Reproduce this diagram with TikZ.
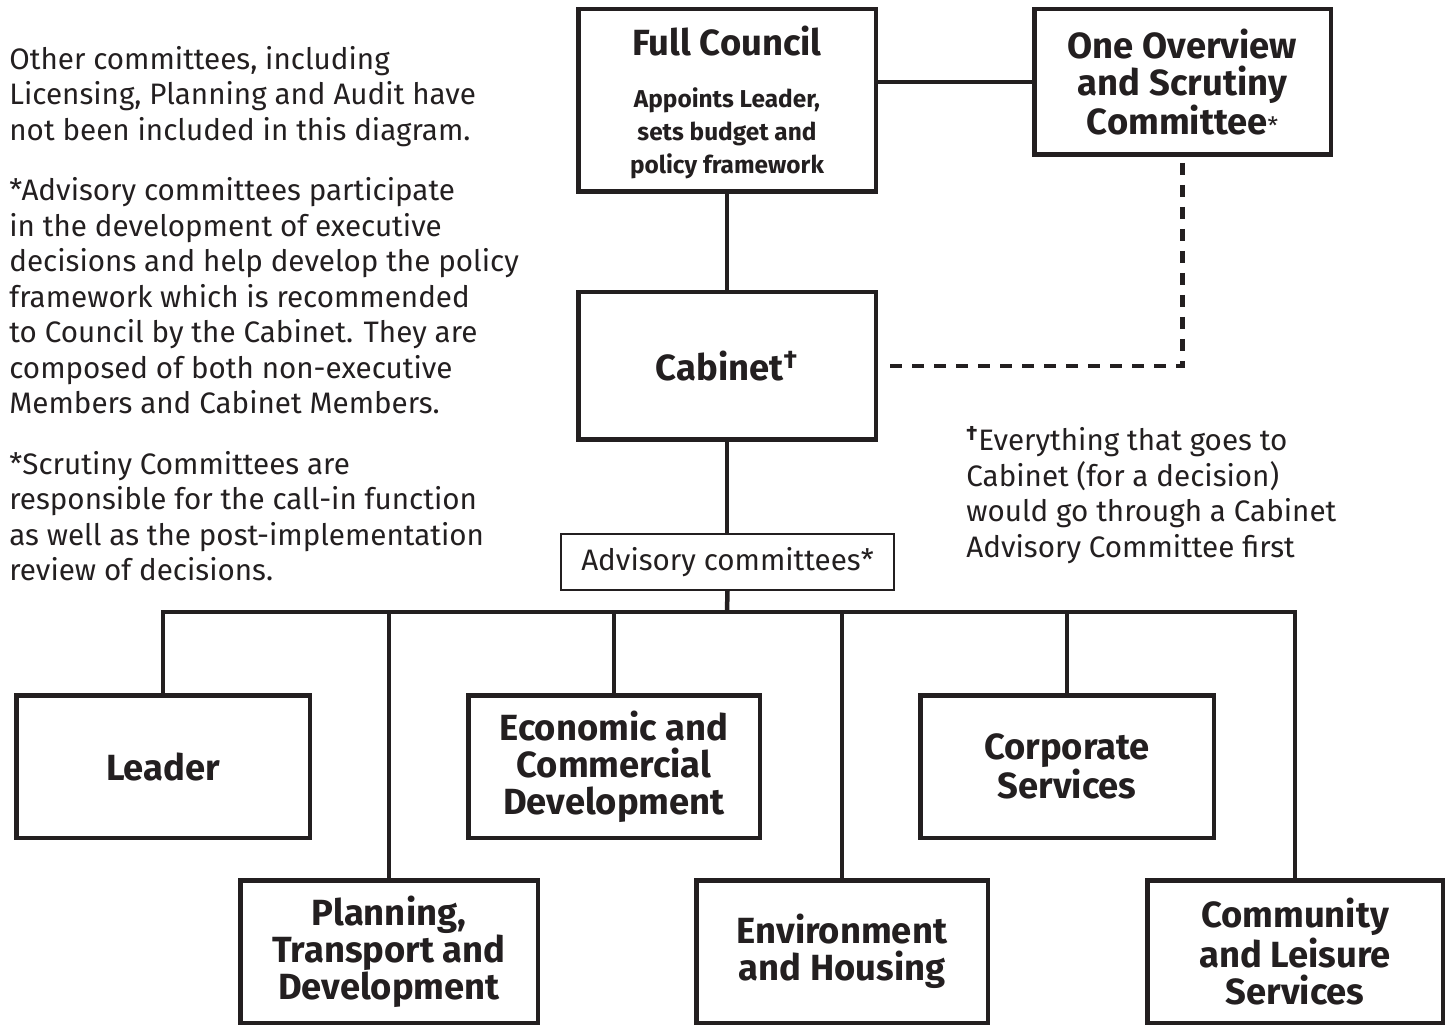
\documentclass[tikz,border=0pt]{standalone}
\usepackage{fontspec}
\setmainfont{Fira Sans}

\definecolor{ink}{HTML}{231F20}
\newcommand{\titlefont}{\fontsize{18.2}{18.6}\selectfont\bfseries}
\newcommand{\subfont}{\fontsize{12.2}{16.5}\selectfont\bfseries}
\newcommand{\notefont}{\fontsize{14.8}{17.75}\selectfont}

\tikzset{
    unit/.style={draw=ink, line width=2.25pt, fill=white, align=center,
        inner sep=0pt, font=\titlefont, minimum height=71.25pt},
    link/.style={draw=ink, line width=2.25pt},
    scrutinylink/.style={draw=ink, line width=2.25pt, dash pattern=on 6pt off 5pt},
    note/.style={align=left, inner sep=0pt, font=\notefont, anchor=north west}
}

\begin{document}
\begin{tikzpicture}[x=0.5pt,y=-0.5pt,text=ink]
    \useasboundingbox (0,0) rectangle (1453,1027);

    % top of the structure
    \node [unit, minimum width=148.75pt, minimum height=91.25pt] (council) at (727,100.5)
        {\rule{0pt}{16.8pt}Full Council\\[7pt]\subfont Appoints Leader,\\[-2.1pt] \subfont sets budget and\\[-2.1pt] \subfont policy framework};
    \node [unit, minimum width=148.25pt, minimum height=72.75pt] (overview) at (1182.5,82)
        {One Overview\\ and Scrutiny\\ Committee{\mdseries\fontsize{12}{12}\selectfont *}};
    \node [unit, minimum width=148.75pt, minimum height=73.75pt] (cabinet) at (727,366)
        {Cabinet\textsuperscript{†}};
    \node [draw=ink, line width=1pt, inner sep=0pt, font=\notefont,
        minimum width=166.5pt, minimum height=28pt] (advisory) at (727.5,562) {Advisory committees*};

    % portfolio boxes
    \node [unit, minimum width=146.75pt] (leader)      at (163,766.5)  {Leader};
    \node [unit, minimum width=145.75pt] (economic)    at (614,766.5)  {Economic and\\ Commercial\\ Development};
    \node [unit, minimum width=146.75pt] (corporate)   at (1067,766.5) {Corporate\\ Services};
    \node [unit, minimum width=148.75pt] (planning)    at (389,951.5)  {Planning,\\ Transport and\\ Development};
    \node [unit, minimum width=145.75pt] (environment) at (842,951.5)  {Environment\\ and Housing};
    \node [unit, minimum width=147.75pt] (community)   at (1295,951.5) {Community\\ and Leisure\\ Services};

    % notes
    \node [note] (othernote) at (9,46) {Other committees, including\\
        Licensing, Planning and Audit have\\
        not been included in this diagram.\\[12.5pt]
        *Advisory committees participate\\
        in the development of executive\\
        decisions and help develop the policy\\
        framework which is recommended\\
        to Council by the Cabinet. They are\\
        composed of both non-executive\\
        Members and Cabinet Members.\\[12.5pt]
        *Scrutiny Committees are\\
        responsible for the call-in function\\
        as well as the post-implementation\\
        review of decisions.};
    \node [note] (daggernote) at (966,426) {\textsuperscript{\bfseries †}Everything that goes to\\
        Cabinet (for a decision)\\
        would go through a Cabinet\\
        Advisory Committee first};

    % connectors
    \draw [link] (council) -- (cabinet);
    \draw [link] (overview.west) -- (overview.west -| council.east);
    \draw [scrutinylink] ([yshift=-3pt]overview.south) |- ([xshift=2pt]cabinet.east);
    \draw [link] (cabinet.south) -- (cabinet.south |- advisory.north);

    \coordinate (bus) at (727,612);
    \draw [link] (advisory.south) -- (bus);
    \draw [link] (leader.north) |- (community.north |- bus) -- (community.north);
    \foreach \b in {planning,economic,environment,corporate}{%
        \draw [link] (\b.north) -- (\b.north |- bus);
    }
\end{tikzpicture}
\end{document}
